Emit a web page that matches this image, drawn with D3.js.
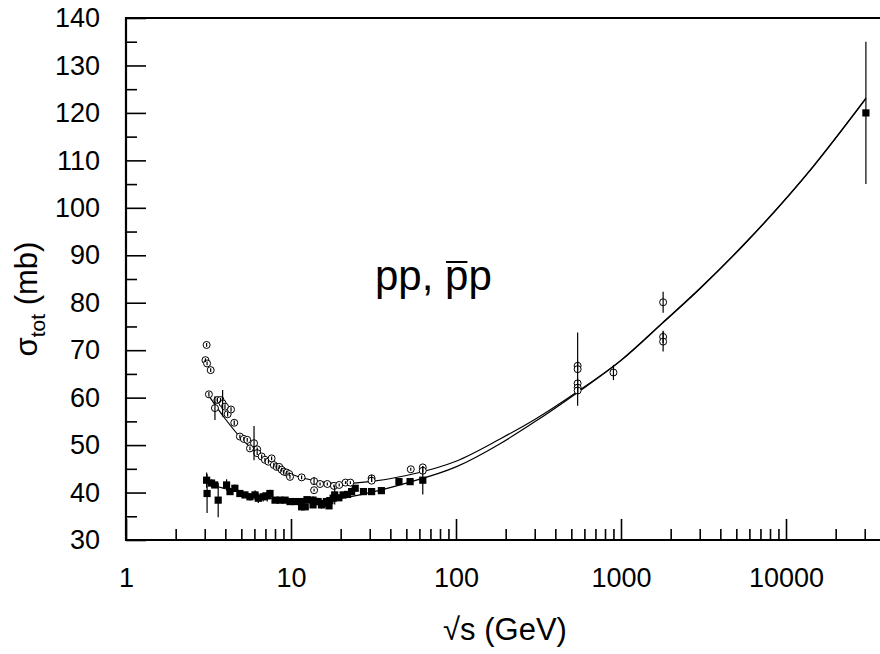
<!DOCTYPE html>
<html>
<head>
<meta charset="utf-8">
<script src="https://cdn.jsdelivr.net/npm/d3@7"></script>
<style>
  body { margin: 0; background: #fff; }
  svg text { font-family: 'Liberation Sans', Arial, sans-serif; fill: #000; }
</style>
</head>
<body>
<div id="chart"></div>
<script>
// pbar-p points (open circles): sqrt(s) in GeV, sigma_tot in mb, error
const pbarpS = [3.03, 3.08, 3.10, 3.18, 3.26, 3.46, 3.58, 3.74, 3.85, 3.98, 4.13, 4.33, 4.53,
  4.90, 5.18, 5.43, 5.64, 5.97, 6.24, 6.24, 6.64, 6.95, 7.30, 7.63, 7.87, 8.19, 8.49, 8.78,
  9.05, 9.43, 9.75, 9.86, 11.6, 13.8, 13.8, 15.0, 16.6, 18.2, 19.6, 21.4, 22.9, 30.8, 30.8,
  53.2, 62.9, 62.9, 546, 546, 546, 546, 546, 900, 1800, 1800, 1800];
const pbarpSigma = [67.9, 71.1, 67.2, 60.7, 65.8, 57.8, 59.5, 59.5, 58.8, 58.1, 56.5, 57.5, 54.7,
  51.8, 51.3, 51.1, 49.3, 50.4, 49.1, 48.3, 47.6, 46.9, 46.5, 47.2, 45.8, 45.4, 45.4, 44.8,
  44.4, 44.2, 43.9, 43.3, 43.2, 42.4, 40.5, 41.8, 41.8, 41.4, 41.6, 42.1, 42.1, 43.0, 42.5,
  44.9, 45.3, 44.6, 66.7, 66.0, 63.0, 62.1, 61.5, 65.3, 80.1, 72.8, 71.8];
const pbarpErr = [0.4, 0.4, 0.4, 0.5, 0.4, 2.5, 0.5, 0.5, 2.8, 0.5, 0.5, 0.5, 0.5,
  0.4, 0.4, 0.4, 0.4, 3.6, 0.4, 0.4, 0.4, 0.4, 0.4, 0.4, 0.4, 0.4, 0.4, 0.4,
  0.4, 0.4, 0.4, 0.4, 0.4, 0.8, 0.3, 0.3, 0.3, 0.3, 0.3, 0.3, 0.3, 0.7, 0.3,
  0.3, 0.3, 0.3, 1.0, 7.7, 1.0, 0.8, 0.8, 1.6, 2.2, 1.3, 2.1];

// p-p points (filled squares)
const ppS = [3.08, 3.10, 3.30, 3.45, 3.62, 4.07, 4.27, 4.57, 4.90, 5.26, 5.64, 6.05, 6.34,
  6.78, 7.18, 7.46, 8.0, 8.59, 9.21, 9.86, 10.6, 11.6, 11.6, 12.2, 12.5, 13.6, 13.6, 14.6,
  15.3, 15.6, 16.4, 17.0, 17.2, 18.0, 18.4, 19.5, 20.7, 22.0, 23.3, 24.5, 27.5, 30.8, 35.3,
  45.1, 52.7, 62.9, 30500];
const ppSigma = [42.6, 39.8, 42.0, 41.6, 38.4, 41.6, 40.2, 40.9, 39.8, 39.5, 39.1, 39.5, 38.8,
  39.1, 39.3, 39.8, 38.4, 38.4, 38.4, 38.1, 38.1, 38.1, 37.0, 37.0, 38.5, 38.4, 37.4, 38.1,
  37.4, 37.7, 38.1, 37.2, 38.3, 38.8, 39.5, 38.9, 39.5, 39.6, 40.2, 40.9, 40.2, 40.2, 40.4,
  42.3, 42.3, 42.6, 120];
const ppErr = [1.6, 4.1, 0.8, 0.6, 3.6, 1.2, 0.6, 0.8, 0.6, 0.6, 0.8, 1.0, 1.0,
  1.0, 1.2, 0.8, 0.6, 0.6, 0.6, 0.6, 0.6, 0.6, 0.8, 0.6, 0.4, 0.8, 0.6, 0.8,
  0.8, 0.6, 0.8, 0.6, 0.6, 0.6, 2.0, 0.6, 0.6, 0.6, 0.6, 0.6, 0.5, 0.5, 0.5,
  0.5, 0.5, 3.0, 15];

// fit curves
const fitS = [3.15, 4, 5, 7, 10, 15, 20, 30, 50, 100, 185, 300, 546, 1000, 1800, 3000, 5770, 14650, 30500];
const fitPbarp = [60.6, 55.5, 51.4, 46.9, 43.9, 42.3, 41.9, 42.3, 43.6, 46.6, 51.3, 55.4, 61.3, 67.9, 75.9, 83.0, 92.9, 108.8, 123.1];
const fitPp = [41.8, 40.8, 40.0, 39.0, 38.5, 38.3, 38.8, 40.0, 42.0, 45.4, 50.3, 54.9, 61.1, 67.8, 75.8, 82.9, 92.8, 108.7, 123.0];

const xMajor = [1, 10, 100, 1000, 10000];
const yMajor = [30, 40, 50, 60, 70, 80, 90, 100, 110, 120, 130, 140];

const W = 880, H = 654;
const plotL = 126, plotR = 880, plotT = 18, plotB = 540;

const svg = d3.select('#chart').append('svg')
  .attr('width', W)
  .attr('height', H);

const x = d3.scaleLog().domain([1, 37130]).range([plotL, plotR]);
const y = d3.scaleLinear().domain([30, 140]).range([plotB, plotT]);

// minor ticks: 2..9 per decade, and every 5 mb
const xMinor = [];
xMajor.forEach(d => { for (let k = 2; k <= 9; k++) if (d * k < 37130) xMinor.push(d * k); });
const yMinor = yMajor.slice(0, -1).map(d => d + 5);

const axisX = svg.append('g').attr('transform', `translate(0,${plotB})`);
axisX.append('g').call(d3.axisBottom(x).tickValues(xMinor).tickSize(-11).tickFormat(''));
axisX.append('g').call(d3.axisBottom(x).tickValues(xMajor).tickSize(-21).tickPadding(28).tickFormat(d3.format('d')));

const axisY = svg.append('g').attr('transform', `translate(${plotL},0)`);
axisY.append('g').call(d3.axisLeft(y).tickValues(yMinor).tickSize(-11).tickFormat(''));
axisY.append('g').call(d3.axisLeft(y).tickValues(yMajor).tickSize(-20).tickPadding(26).tickFormat(d3.format('d')));

svg.selectAll('.domain').remove();
svg.selectAll('.tick line').attr('stroke', '#000').attr('stroke-width', 1.6);
svg.selectAll('.tick text').attr('font-size', 27).attr('fill', '#000')
  .style('font-family', "'Liberation Sans', Arial, sans-serif");

// frame (left, bottom, top)
svg.append('path')
  .attr('d', `M${plotR},${plotT}H${plotL}V${plotB}H${plotR}`)
  .attr('fill', 'none')
  .attr('stroke', '#000')
  .attr('stroke-width', 2.2);

const line = d3.line()
  .x(i => x(fitS[i]))
  .curve(d3.curveMonotoneX);

[fitPbarp, fitPp].forEach(vals => {
  svg.append('path')
    .datum(d3.range(fitS.length))
    .attr('d', line.y(i => y(vals[i])))
    .attr('fill', 'none')
    .attr('stroke', '#000')
    .attr('stroke-width', 1.2);
});

const ppIdx = d3.range(ppS.length);
const pbIdx = d3.range(pbarpS.length);

// squares
svg.append('g').selectAll('rect')
  .data(ppIdx).enter().append('rect')
    .attr('x', i => x(ppS[i]) - 3.6)
    .attr('y', i => y(ppSigma[i]) - 3.6)
    .attr('width', 7.2)
    .attr('height', 7.2)
    .attr('fill', '#000');

// circles
svg.append('g').selectAll('circle')
  .data(pbIdx).enter().append('circle')
    .attr('cx', i => x(pbarpS[i]))
    .attr('cy', i => y(pbarpSigma[i]))
    .attr('r', 3.5)
    .attr('fill', '#fff')
    .attr('stroke', '#000')
    .attr('stroke-width', 1);

// error bars on top
const bars = svg.append('g').attr('stroke', '#000').attr('stroke-width', 1.2);
bars.selectAll('.pp').data(ppIdx).enter().append('line')
  .attr('x1', i => x(ppS[i])).attr('x2', i => x(ppS[i]))
  .attr('y1', i => y(ppSigma[i] - ppErr[i]))
  .attr('y2', i => y(ppSigma[i] + ppErr[i]));
bars.selectAll('.pb').data(pbIdx).enter().append('line')
  .attr('x1', i => x(pbarpS[i])).attr('x2', i => x(pbarpS[i]))
  .attr('y1', i => y(pbarpSigma[i] - pbarpErr[i]))
  .attr('y2', i => y(pbarpSigma[i] + pbarpErr[i]));

// axis titles
svg.append('text')
  .attr('x', 505).attr('y', 640)
  .attr('text-anchor', 'middle')
  .attr('font-size', 31)
  .text('√s (GeV)');

const yTitle = svg.append('text')
  .attr('transform', 'translate(37,299) rotate(-90)')
  .attr('text-anchor', 'middle')
  .attr('font-size', 31);
yTitle.append('tspan').text('σ');
yTitle.append('tspan').attr('font-size', 21).attr('dy', 8).text('tot');
yTitle.append('tspan').attr('dy', -8).text(' (mb)');

// reaction label with overline on the antiproton
const label = svg.append('text')
  .attr('x', 375).attr('y', 290)
  .attr('font-size', 42)
  .text('pp, pp');
const node = label.node();
const p0 = node.getStartPositionOfChar(4).x;
const p1 = node.getEndPositionOfChar(4).x;
svg.append('line')
  .attr('x1', p0 + 1).attr('x2', p1 - 1)
  .attr('y1', 262).attr('y2', 262)
  .attr('stroke', '#000')
  .attr('stroke-width', 2);
</script>
</body>
</html>
